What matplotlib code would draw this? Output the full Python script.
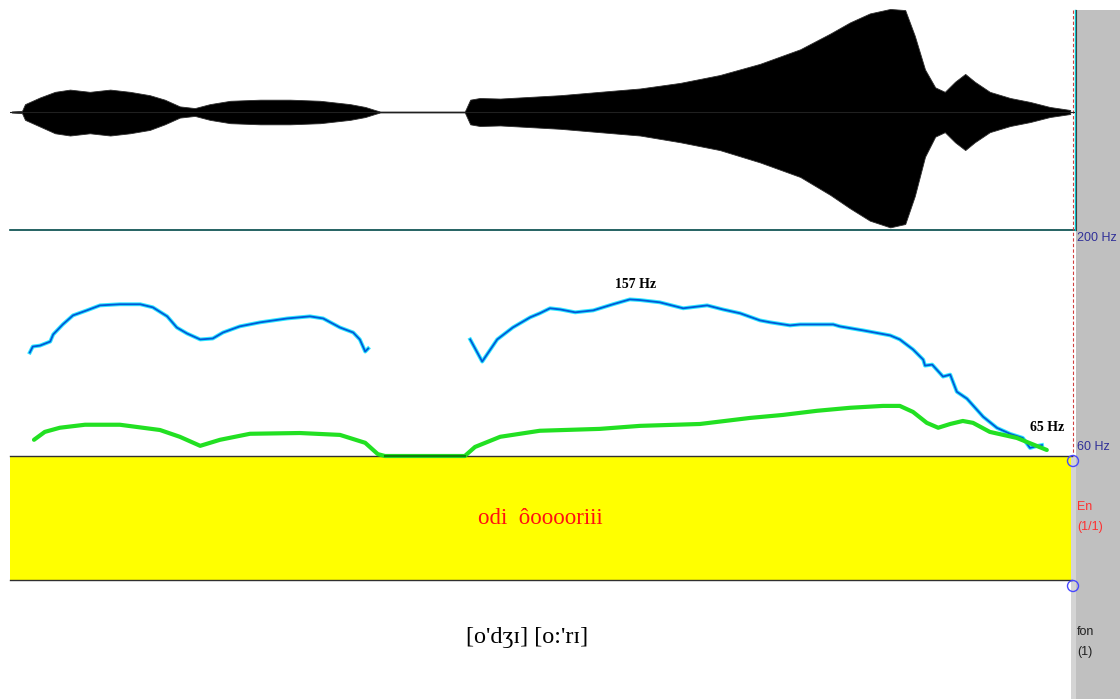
import matplotlib
matplotlib.use("Agg")
import matplotlib.pyplot as plt
from matplotlib.patches import Rectangle, Circle

W, H = 1120, 699

# ---------------- data ----------------
# waveform envelope (time in s, amplitude normalised)
wave_t = [0.003, 0.020, 0.025, 0.050, 0.075, 0.100, 0.133, 0.167, 0.200, 0.233,
          0.258, 0.283, 0.308, 0.333, 0.367, 0.417, 0.467, 0.517, 0.567, 0.592,
          0.608, 0.617, 0.758, 0.767, 0.783, 0.817, 0.867, 0.917, 0.983, 1.050,
          1.117, 1.183, 1.250, 1.317, 1.367, 1.400, 1.433, 1.467, 1.492, 1.508,
          1.525, 1.542, 1.558, 1.575, 1.592, 1.608, 1.633, 1.667, 1.700, 1.733,
          1.767]
wave_up = [0.005, 0.010, 0.07, 0.13, 0.18, 0.20, 0.18, 0.20, 0.18, 0.15,
           0.11, 0.05, 0.035, 0.07, 0.10, 0.11, 0.11, 0.10, 0.07, 0.045,
           0.018, 0.004, 0.004, 0.11, 0.125, 0.12, 0.135, 0.15, 0.18, 0.21,
           0.26, 0.33, 0.43, 0.56, 0.70, 0.80, 0.88, 0.92, 0.91, 0.68,
           0.38, 0.22, 0.18, 0.27, 0.34, 0.27, 0.18, 0.125, 0.09, 0.045,
           0.018]
wave_lo = [0.005, 0.010, 0.07, 0.13, 0.19, 0.21, 0.19, 0.21, 0.19, 0.16,
           0.11, 0.05, 0.035, 0.07, 0.10, 0.11, 0.11, 0.10, 0.07, 0.045,
           0.018, 0.004, 0.004, 0.11, 0.125, 0.12, 0.135, 0.15, 0.18, 0.21,
           0.27, 0.34, 0.45, 0.58, 0.74, 0.86, 0.97, 1.03, 1.00, 0.75,
           0.40, 0.22, 0.18, 0.27, 0.34, 0.27, 0.18, 0.125, 0.09, 0.045,
           0.018]

# F0 contour (Hz), two voiced stretches
f0_t1 = [0.033, 0.038, 0.050, 0.067, 0.072, 0.088, 0.105, 0.128, 0.150, 0.183,
         0.217, 0.238, 0.262, 0.278, 0.295, 0.317, 0.338, 0.355, 0.383, 0.417,
         0.462, 0.500, 0.522, 0.550, 0.572, 0.583, 0.592, 0.597]
f0_v1 = [124.1, 127.8, 128.4, 130.9, 135.3, 141.5, 147.1, 150.2, 153.3, 154.0,
         154.0, 152.1, 146.5, 139.6, 135.9, 132.2, 132.8, 136.5, 140.3, 142.8,
         145.2, 146.5, 145.2, 139.6, 136.5, 132.2, 124.7, 126.6]
f0_t2 = [0.767, 0.787, 0.812, 0.838, 0.867, 0.883, 0.900, 0.917, 0.942, 0.972,
         1.005, 1.033, 1.050, 1.083, 1.122, 1.162, 1.188, 1.217, 1.250, 1.267,
         1.300, 1.317, 1.372, 1.383, 1.422, 1.467, 1.483, 1.505, 1.522, 1.525,
         1.537, 1.555, 1.567, 1.578, 1.595, 1.622, 1.645, 1.667, 1.688, 1.700,
         1.712, 1.720]
f0_v2 = [132.2, 118.5, 132.2, 139.6, 145.9, 148.4, 151.5, 150.8, 149.0, 150.2,
         154.0, 157.0, 156.6, 155.2, 151.5, 153.3, 150.8, 148.4, 144.0, 142.8,
         140.9, 141.5, 141.5, 140.3, 137.8, 134.7, 132.2, 126.0, 119.7, 116.0,
         116.6, 109.2, 110.4, 99.8, 95.5, 84.3, 77.4, 73.7, 71.2, 65.0,
         66.2, 66.8]

# intensity curve (dB)
int_t = [0.040, 0.058, 0.083, 0.125, 0.183, 0.250, 0.283, 0.317, 0.350, 0.400,
         0.483, 0.550, 0.592, 0.613, 0.625, 0.758, 0.775, 0.817, 0.883, 0.983,
         1.050, 1.150, 1.233, 1.288, 1.345, 1.400, 1.455, 1.483, 1.505, 1.528,
         1.547, 1.567, 1.588, 1.605, 1.633, 1.678, 1.728]
int_v = [34.3, 36.4, 37.5, 38.3, 38.3, 36.9, 35.1, 32.7, 34.3, 35.9,
         36.1, 35.6, 33.5, 30.5, 30.0, 30.0, 32.4, 35.1, 36.7, 37.2,
         38.0, 38.5, 40.1, 40.9, 42.0, 42.8, 43.3, 43.3, 41.7, 38.8,
         37.5, 38.5, 39.3, 38.8, 36.4, 34.8, 31.6]

f0_range = (60, 200)
f0_labels = ["200 Hz", "60 Hz"]
peak_label = "157 Hz"
end_label = "65 Hz"
ortho_text = "odi  ô" + "oooo" + "riii"
phon_text = "[o'dʒɪ] [o:'rɪ]"
tier1 = ["En", "(1/1)"]
tier2 = ["fon", "(1)"]

T_END = 1.775


def rect(x0, y0, x1, y1):
    return [x0 / W, 1 - y1 / H, (x1 - x0) / W, (y1 - y0) / H]


fig = plt.figure(figsize=(W / 100, H / 100), dpi=100)
fig.patch.set_facecolor("white")

# background axes in pixel coordinates
bg = fig.add_axes([0, 0, 1, 1], zorder=0)
bg.set_xlim(0, W)
bg.set_ylim(H, 0)
bg.axis("off")
bg.add_patch(Rectangle((1076, 10), W - 1076, H - 10, facecolor="#c0c0c0", edgecolor="none"))
bg.add_patch(Rectangle((1071, 456), 5, H - 456, facecolor="#d4d4d4", edgecolor="none"))
bg.add_patch(Rectangle((10, 456), 1061, 124, facecolor="#ffff00", edgecolor="none"))
bg.plot([10, 1072], [456, 456], color="#303030", lw=1)
bg.plot([10, 1072], [580, 580], color="#303030", lw=1)
bg.plot([10, 1075], [230, 230], color="#004848", lw=1.2)
bg.plot([1075, 1075], [10, 230], color="#00c8d0", lw=1)
bg.plot([1076, 1076], [10, 230], color="#404040", lw=0.8)
bg.plot([1073, 1073], [10, 456], color="#d04040", lw=0.8, ls=(0, (3, 2)))

# waveform
ax_w = fig.add_axes(rect(10, 0, 1075, 230), zorder=1)
ax_w.set_xlim(0, T_END)
ax_w.set_ylim(-118 / 112, 1)
ax_w.axis("off")
ax_w.patch.set_alpha(0)
ax_w.axhline(0, color="#202020", lw=0.8)
ax_w.fill_between(wave_t, wave_up, [-l for l in wave_lo],
                  facecolor="black", lw=0.6, edgecolor="#303030")

# pitch + intensity
ax_p = fig.add_axes(rect(10, 230, 1075, 456), zorder=2)
ax_p.set_xlim(0, T_END)
ax_p.set_ylim(*f0_range)
ax_p.axis("off")
ax_p.patch.set_alpha(0)
ax_i = ax_p.twinx()
ax_i.set_ylim(30, 90)
ax_i.axis("off")
ax_i.plot(int_t, int_v, color="#22e022", lw=3, solid_capstyle="round", clip_on=False)
ax_i.plot([0.625, 0.758], [30.0, 30.0], color="#108010", lw=1.5, clip_on=False)
for tt, vv in ((f0_t1, f0_v1), (f0_t2, f0_v2)):
    ax_p.plot(tt, vv, color="#30e8ff", lw=2.8, zorder=3)
    ax_p.plot(tt, vv, color="#0058d8", lw=1.3, zorder=4)
ax_p.text(1.042, 166.5, peak_label, ha="center", va="center",
          family=["Liberation Serif", "DejaVu Serif"], fontsize=10, fontweight="bold")
ax_p.text(1.728, 77.4, end_label, ha="center", va="center",
          family=["Liberation Serif", "DejaVu Serif"], fontsize=10, fontweight="bold")

# foreground in pixel coordinates
fg = fig.add_axes([0, 0, 1, 1], zorder=5)
fg.set_xlim(0, W)
fg.set_ylim(H, 0)
fg.axis("off")
fg.patch.set_alpha(0)
fg.add_patch(Circle((1073, 461), 5.5, facecolor="none", edgecolor="#4848ff", lw=1))
fg.add_patch(Circle((1073, 586), 5.5, facecolor="none", edgecolor="#4848ff", lw=1))
sans = ["Liberation Sans", "DejaVu Sans"]
fg.text(1077, 238, f0_labels[0], color="#303098", fontsize=9, family=sans, va="center")
fg.text(1077, 447, f0_labels[1], color="#303098", fontsize=9, family=sans, va="center")
fg.text(1077, 507, tier1[0], color="#ff3030", fontsize=9, family=sans, va="center")
fg.text(1077, 527, tier1[1], color="#ff3030", fontsize=9, family=sans, va="center")
fg.text(1077, 632, tier2[0], color="#202020", fontsize=9, family=sans, va="center")
fg.text(1077, 652, tier2[1], color="#202020", fontsize=9, family=sans, va="center")
serif = ["Liberation Serif", "DejaVu Serif"]
fg.text(540, 518, ortho_text, color="#ff1010", fontsize=16.5, family=serif,
        ha="center", va="center")
fg.text(527, 638, phon_text, color="black", fontsize=17.5, family=serif,
        ha="center", va="center")

fig.savefig("out.png", dpi=100)
